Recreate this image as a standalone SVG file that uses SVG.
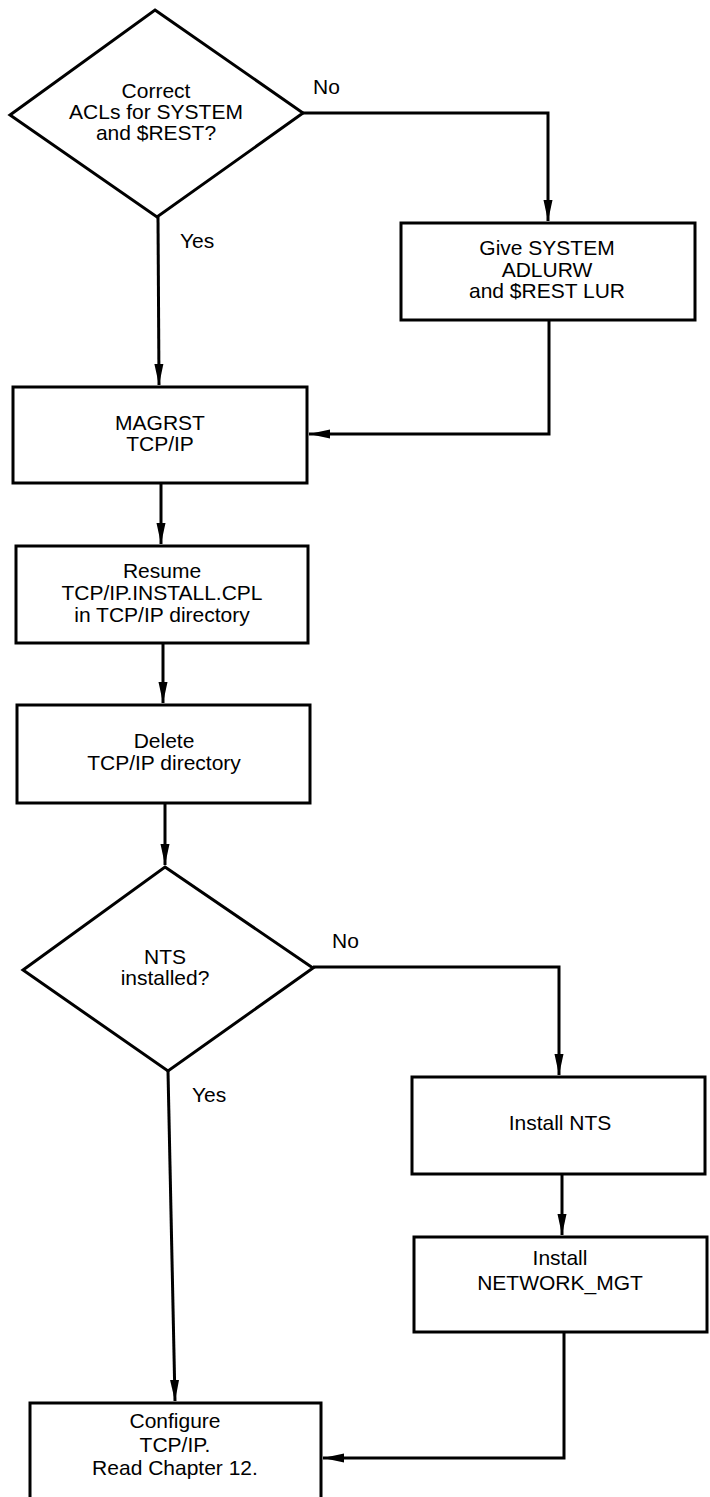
<svg xmlns="http://www.w3.org/2000/svg" width="710" height="1497" viewBox="0 0 710 1497">
<style>
.shape{fill:#fff;stroke:#000;stroke-width:3}
.conn{fill:none;stroke:#000;stroke-width:3}
text{font-family:"Liberation Sans",Arial,sans-serif;font-size:21px;fill:#000;text-anchor:middle}
.lbl{text-anchor:start}
</style>
<defs>
<marker id="arr" markerUnits="userSpaceOnUse" markerWidth="22" markerHeight="10" refX="21" refY="5" orient="auto">
<path d="M0,0.5 L21,5 L0,9.5 z" fill="#000"/>
</marker>
</defs>
<rect width="710" height="1497" fill="#fff"/>
<g id="connectors">
<polyline class="conn" points="303,113 548,113 548,221" marker-end="url(#arr)"/>
<line class="conn" x1="158" y1="217" x2="159" y2="385" marker-end="url(#arr)"/>
<polyline class="conn" points="549,321 549,434 309,434" marker-end="url(#arr)"/>
<line class="conn" x1="161" y1="483" x2="161" y2="544" marker-end="url(#arr)"/>
<line class="conn" x1="163" y1="643" x2="163" y2="703" marker-end="url(#arr)"/>
<line class="conn" x1="165" y1="803" x2="165" y2="865" marker-end="url(#arr)"/>
<polyline class="conn" points="313,967 559,967 559,1075" marker-end="url(#arr)"/>
<line class="conn" x1="562" y1="1174" x2="562" y2="1235" marker-end="url(#arr)"/>
<line class="conn" x1="168" y1="1071" x2="175" y2="1401" marker-end="url(#arr)"/>
<polyline class="conn" points="564,1332 564,1458 323,1458" marker-end="url(#arr)"/>
</g>
<g id="labels">
<text class="lbl" x="313" y="94">No</text>
<text class="lbl" x="180" y="248">Yes</text>
<text class="lbl" x="332" y="948">No</text>
<text class="lbl" x="192" y="1102">Yes</text>
</g>
<g id="decision1">
<polygon class="shape" points="155,10 303,113 157,217 10,115"/>
<text x="156" y="98">Correct</text>
<text x="156" y="119">ACLs for SYSTEM</text>
<text x="156" y="140">and $REST?</text>
</g>
<g id="give-system">
<rect class="shape" x="401" y="223" width="294" height="97"/>
<text x="547" y="255">Give SYSTEM</text>
<text x="547" y="277">ADLURW</text>
<text x="547" y="298">and $REST LUR</text>
</g>
<g id="magrst">
<rect class="shape" x="13" y="387" width="294" height="96"/>
<text x="160" y="430">MAGRST</text>
<text x="160" y="451">TCP/IP</text>
</g>
<g id="resume">
<rect class="shape" x="16" y="546" width="292" height="97"/>
<text x="162" y="578">Resume</text>
<text x="162" y="600">TCP/IP.INSTALL.CPL</text>
<text x="162" y="622">in TCP/IP directory</text>
</g>
<g id="delete">
<rect class="shape" x="17" y="705" width="293" height="98"/>
<text x="164" y="748">Delete</text>
<text x="164" y="770">TCP/IP directory</text>
</g>
<g id="decision2">
<polygon class="shape" points="165,867 313,968 168,1071 23,970"/>
<text x="165" y="964">NTS</text>
<text x="165" y="985">installed?</text>
</g>
<g id="install-nts">
<rect class="shape" x="412" y="1077" width="293" height="97"/>
<text x="560" y="1130">Install NTS</text>
</g>
<g id="install-network-mgt">
<rect class="shape" x="414" y="1237" width="293" height="95"/>
<text x="560" y="1265">Install</text>
<text x="560" y="1290">NETWORK_MGT</text>
</g>
<g id="configure">
<rect class="shape" x="30" y="1403" width="291" height="110"/>
<text x="175" y="1428">Configure</text>
<text x="175" y="1452">TCP/IP.</text>
<text x="175" y="1475">Read Chapter 12.</text>
</g>
</svg>
